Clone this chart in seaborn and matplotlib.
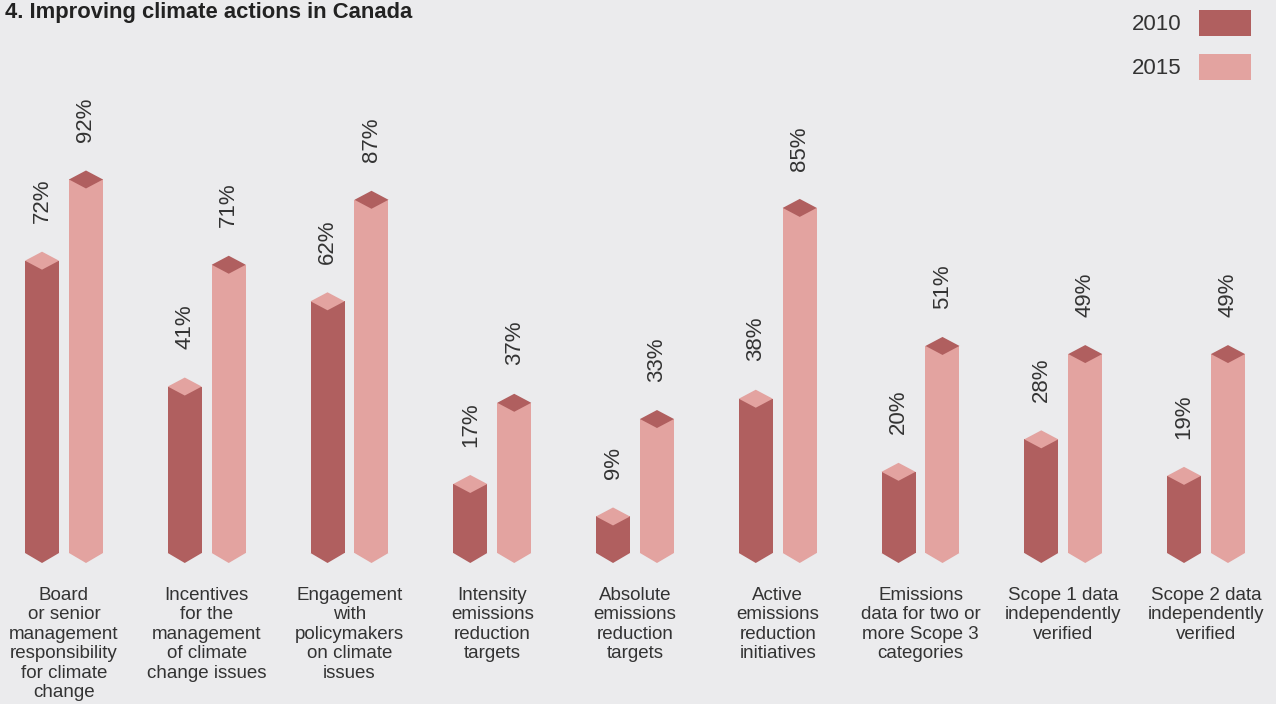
import matplotlib
matplotlib.use("Agg")
import matplotlib.pyplot as plt
from matplotlib.patches import Polygon, Patch
import pandas as pd
import seaborn as sns

categories = [
    "Board\nor senior\nmanagement\nresponsibility\nfor climate\nchange",
    "Incentives\nfor the\nmanagement\nof climate\nchange issues",
    "Engagement\nwith\npolicymakers\non climate\nissues",
    "Intensity\nemissions\nreduction\ntargets",
    "Absolute\nemissions\nreduction\ntargets",
    "Active\nemissions\nreduction\ninitiatives",
    "Emissions\ndata for two or\nmore Scope 3\ncategories",
    "Scope 1 data\nindependently\nverified",
    "Scope 2 data\nindependently\nverified",
]
years = ["2010", "2015"]
values_2010 = [72, 41, 62, 17, 9, 38, 20, 28, 19]
values_2015 = [92, 71, 87, 37, 33, 85, 51, 49, 49]

DARK = "#B05F5F"
LIGHT = "#E3A3A0"
BG = "#EBEBED"
TEXT = "#333333"

sns.set_theme(style="white")
plt.rcParams["font.family"] = ["Liberation Sans", "DejaVu Sans"]

df = pd.DataFrame({
    "category": categories * 2,
    "year": [years[0]] * len(categories) + [years[1]] * len(categories),
    "value": values_2010 + values_2015,
})

W, H = 1276, 704
fig = plt.figure(figsize=(W / 100, H / 100), dpi=100, facecolor=BG)
ax = fig.add_axes([0, 0, 1, 1])
ax.set_facecolor(BG)

sns.barplot(data=df, x="category", y="value", hue="year",
            palette=[DARK, LIGHT], saturation=1, width=0.616, gap=0.227,
            linewidth=0, legend=False, ax=ax)

# pixel geometry: one category = 142.75 px, 1 % = 4.06 px, zero line at 151 px from bottom
px_x = 142.75
px_y = 4.06
ax.set_xlim(-64 / px_x, (W - 64) / px_x)
ax.set_ylim(-151 / px_y, (H - 151) / px_y)
ax.axis("off")

diamond_h = 9 / px_y   # half height of the top cap
notch = 10 / px_y      # depth of the pointed bottom
other = {DARK: LIGHT, LIGHT: DARK}

for i, bar in enumerate(ax.patches[:2 * len(categories)]):
    x0 = bar.get_x()
    w = bar.get_width()
    v = bar.get_height()
    xc = x0 + w / 2
    col = DARK if i < len(categories) else LIGHT
    # pointed bottom
    ax.add_patch(Polygon([(x0, 0), (x0 + w, 0), (xc, -notch)], closed=True,
                         facecolor=col, edgecolor="none", clip_on=False))
    # diamond cap
    ax.add_patch(Polygon([(x0, v), (xc, v + diamond_h), (x0 + w, v), (xc, v - diamond_h)],
                         closed=True, facecolor=other[col], edgecolor="none", zorder=3))
    ax.text(xc, v + 9.2, f"{v:.0f}%", rotation=90, ha="center", va="bottom",
            fontsize=16, color=TEXT)

for j, cat in enumerate(categories):
    ax.text(j, -(587 - 553) / px_y, cat, ha="center", va="top", fontsize=13.5,
            color=TEXT, linespacing=1.19)

fig.text(5 / W, 1 - 2 / H, "4. Improving climate actions in Canada", ha="left", va="top",
         fontsize=15.8, fontweight="bold", color="#222222")

handles = [Patch(facecolor=DARK, edgecolor="none", label=years[0]),
           Patch(facecolor=LIGHT, edgecolor="none", label=years[1])]
fig.legend(handles=handles, loc="upper right", bbox_to_anchor=(1 - 25 / W, 1 - 10 / H),
           frameon=False, markerfirst=False, fontsize=16, handlelength=2.34,
           handleheight=1.43, labelspacing=0.8, borderpad=0, borderaxespad=0,
           handletextpad=0.8, labelcolor=TEXT)

fig.savefig("out.png", dpi=100, facecolor=BG)
